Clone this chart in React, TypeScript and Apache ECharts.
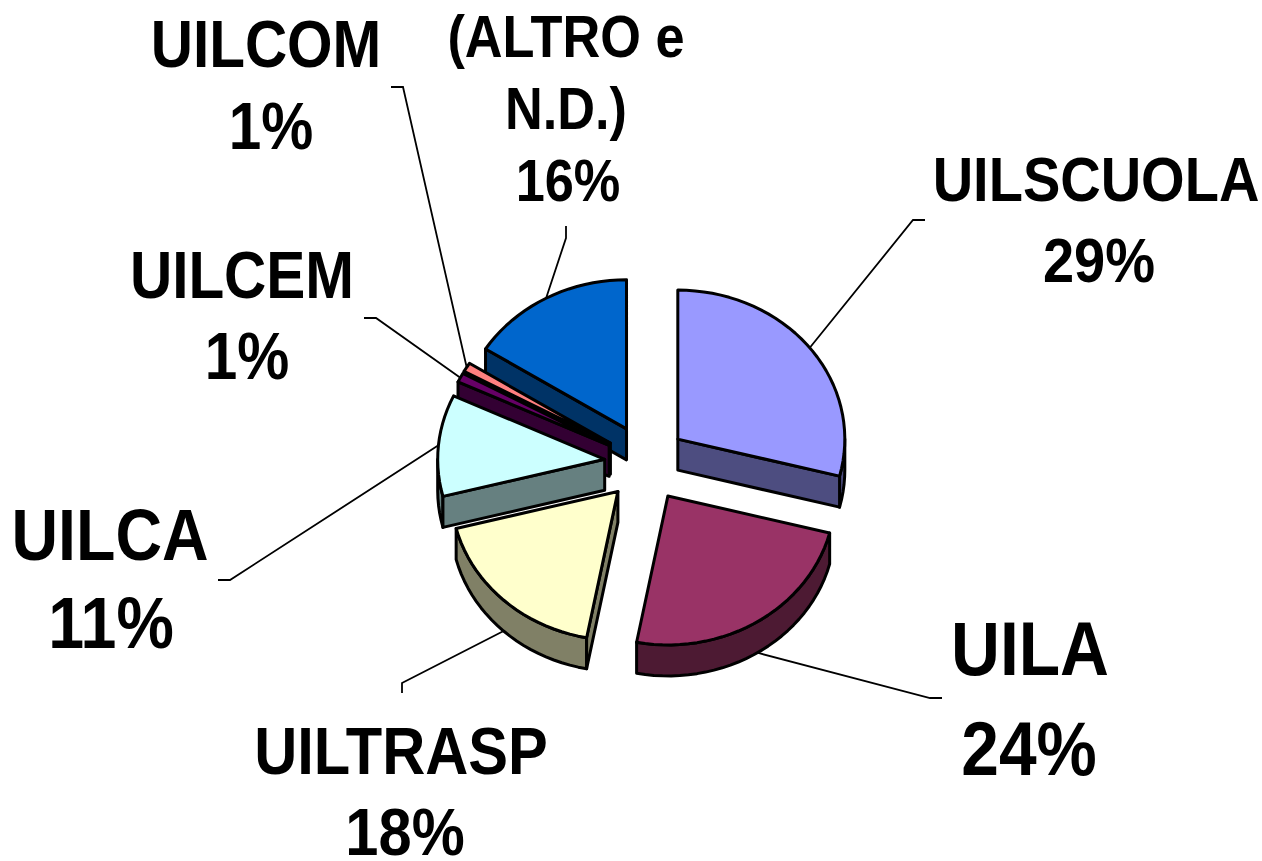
import React, { useEffect, useRef } from "react";
import * as echarts from "echarts";

const categories = ["UILSCUOLA", "UILA", "UILTRASP", "UILCA", "UILCEM", "UILCOM", "(ALTRO e\nN.D.)"];
const values = [29, 24, 18, 11, 1, 1, 16];
const topColors = ["#9999FF", "#993366", "#FFFFCC", "#CCFFFF", "#660066", "#FF8080", "#0066CC"];
const wallColors = ["#4D4D80", "#4D1A33", "#808066", "#668080", "#330033", "#804040", "#003366"];

// label layout, by slice: text centre, first line centre, font size, line spacing, percent nudge, leader elbow & end
const labelX = [1096, 1030, 401, 110, 242, 266, 566];
const labelY = [179, 649, 750, 535, 275, 44, 36];
const labelSize = [56, 67.7, 59.6, 64.5, 58.5, 58.5, 52.3];
const labelGap = [81, 100, 81, 88, 81, 82, 72];
const percentDx = [3, -1, 4, 1, 5, 5, 2];
const leaderElbow = [[913, 220], [930, 698], [402, 683], [230, 580], [376, 318], [403, 87], [566, 238]];
const leaderEnd = [[925, 220], [942, 698], [402, 693], [218, 580], [364, 318], [391, 87], [566, 226]];

const CX = 647, CY = 463, RX = 167, RY = 149, EXPLODE_R = 39, EXPLODE_L = 42.5, EXPLODE_Y = 39, DEPTH = 31;
const STROKE = 3, STRETCH = 1.13;

const total = values.reduce((a, b) => a + b, 0);
const pt = (ox: number, oy: number, a: number, dy = 0): [number, number] => [
  ox + RX * Math.sin(a),
  oy - RY * Math.cos(a) + dy,
];
const apexOf = (i: number): [number, number] => {
  const before = values.slice(0, i).reduce((a, b) => a + b, 0);
  const mid = ((before + values[i] / 2) / total) * Math.PI * 2;
  const s = Math.sin(mid);
  return [CX + (s > 0 ? EXPLODE_R : EXPLODE_L) * s, CY - EXPLODE_Y * Math.cos(mid)];
};
const order = values.map((_, i) => i).sort((a, b) => apexOf(a)[1] - apexOf(b)[1]);

function renderItem(params: any, api: any) {
  const i = params.dataIndex;
  const val = api.value(0);
  const before = values.slice(0, i).reduce((a, b) => a + b, 0);
  const a0 = (before / total) * Math.PI * 2;
  const a1 = ((before + val) / total) * Math.PI * 2;
  const mid = (a0 + a1) / 2;
  const [ax, ay] = apexOf(i);
  const steps = Math.max(2, Math.ceil(((a1 - a0) / (Math.PI * 2)) * 120));
  const angles: number[] = [];
  for (let s = 0; s <= steps; s++) angles.push(a0 + ((a1 - a0) * s) / steps);
  const arc = angles.map((a) => pt(ax, ay, a));
  const frontAngles = [...angles, Math.PI / 2, (3 * Math.PI) / 2]
    .filter((a) => a >= a0 && a <= a1 && Math.cos(a) <= 1e-9)
    .sort((a, b) => a - b);
  const frontArc = frontAngles.map((a) => pt(ax, ay, a));
  const down = (p: [number, number]): [number, number] => [p[0], p[1] + DEPTH];
  const z = order.indexOf(i) * 5;
  const line = { stroke: "#000", lineWidth: STROKE, lineJoin: "round" };
  const wall = { ...line, fill: wallColors[i] };
  const apex: [number, number] = [ax, ay];
  const first = arc[0], last = arc[arc.length - 1];
  const children: any[] = [];
  if (frontArc.length > 1) {
    children.push({
      type: "polygon",
      z2: z,
      shape: { points: [...frontArc, ...frontArc.slice().reverse().map(down)] },
      style: wall,
    });
  }
  if (Math.sin(a0) < 0) {
    children.push({ type: "polygon", z2: z + 1, shape: { points: [apex, first, down(first), down(apex)] }, style: wall });
  }
  if (Math.sin(a1) > 0) {
    children.push({ type: "polygon", z2: z + 2, shape: { points: [apex, last, down(last), down(apex)] }, style: wall });
  }
  children.push({ type: "polygon", z2: z + 3, shape: { points: [apex, ...arc] }, style: { ...line, fill: topColors[i] } });

  const start = pt(ax, ay, mid, Math.cos(mid) < 0 ? DEPTH : 0);
  children.push({
    type: "polyline",
    z2: 100,
    shape: { points: [start, leaderElbow[i], leaderEnd[i]] },
    style: { stroke: "#000", lineWidth: 1.8, fill: "none" },
  });
  const names = categories[i].split("\n");
  const lines = [...names, `${val}%`];
  lines.forEach((t, n) => {
    children.push({
      type: "text",
      z2: 110,
      x: labelX[i] + (n === names.length ? percentDx[i] : 0),
      y: labelY[i] + n * labelGap[i],
      scaleY: STRETCH,
      style: {
        text: t,
        x: 0,
        y: 0,
        align: "center",
        verticalAlign: "middle",
        fontFamily: '"Liberation Sans", Arial, sans-serif',
        fontWeight: "bold",
        fontSize: labelSize[i],
        lineHeight: labelSize[i] * 0.85,
        fill: "#000",
      },
    });
  });
  return { type: "group", children };
}

export default function App() {
  const ref = useRef<HTMLDivElement>(null);
  useEffect(() => {
    const chart = echarts.init(ref.current!, undefined, { renderer: "svg" });
    chart.setOption({
      animation: false,
      backgroundColor: "#fff",
      series: [
        {
          type: "custom",
          coordinateSystem: "none",
          renderItem,
          silent: true,
          clip: false,
          data: values.map((v, i) => ({ name: categories[i], value: [v] })),
        },
      ],
    });
    return () => chart.dispose();
  }, []);
  return <div ref={ref} style={{ position: "absolute", left: 0, top: 0, width: 1262, height: 861 }} />;
}
